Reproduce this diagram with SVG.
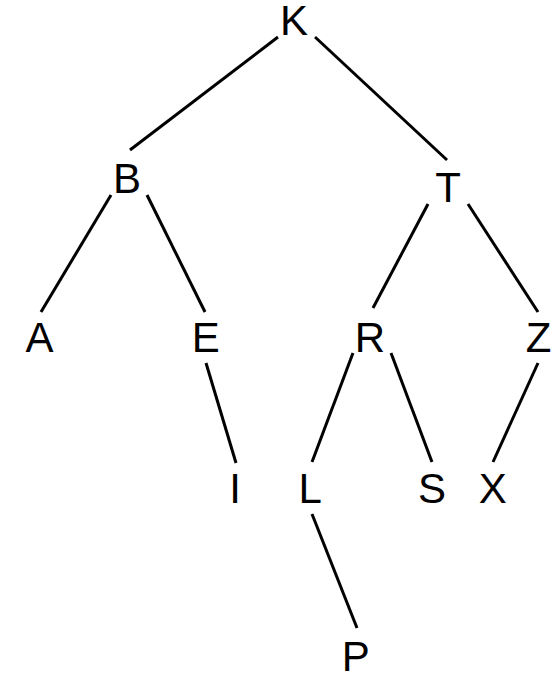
<svg xmlns="http://www.w3.org/2000/svg" width="556" height="673" viewBox="0 0 556 673">
<style>
.e line{stroke:#000;stroke-width:3;stroke-linecap:butt}
text{font-family:"Liberation Sans",Arial,sans-serif;font-size:42px;fill:#000;text-anchor:middle}
</style>
<rect width="556" height="673" fill="#fff"/>
<g id="connectors" class="e">
<line x1="278" y1="37" x2="130" y2="150"/>
<line x1="315" y1="37" x2="447" y2="160"/>
<line x1="111" y1="195" x2="41" y2="312"/>
<line x1="147" y1="195" x2="205" y2="312"/>
<line x1="206" y1="363" x2="236" y2="463"/>
<line x1="428" y1="204" x2="373" y2="308"/>
<line x1="468" y1="204" x2="538" y2="312"/>
<line x1="353" y1="353" x2="312" y2="462"/>
<line x1="391" y1="353" x2="432" y2="462"/>
<line x1="538" y1="363" x2="493" y2="462"/>
<line x1="312" y1="514" x2="357" y2="628"/>
</g>
<g id="node-K"><text x="294" y="35">K</text></g>
<g id="node-B"><text x="127" y="193">B</text></g>
<g id="node-T"><text x="448" y="202">T</text></g>
<g id="node-A"><text x="39.5" y="352">A</text></g>
<g id="node-E"><text x="205.7" y="352">E</text></g>
<g id="node-R"><text x="370" y="352">R</text></g>
<g id="node-Z"><text x="538.6" y="352">Z</text></g>
<g id="node-I"><text x="235" y="503">I</text></g>
<g id="node-L"><text x="310.3" y="503">L</text></g>
<g id="node-S"><text x="432" y="503">S</text></g>
<g id="node-X"><text x="492.8" y="503">X</text></g>
<g id="node-P"><text x="355.8" y="671">P</text></g>
</svg>
